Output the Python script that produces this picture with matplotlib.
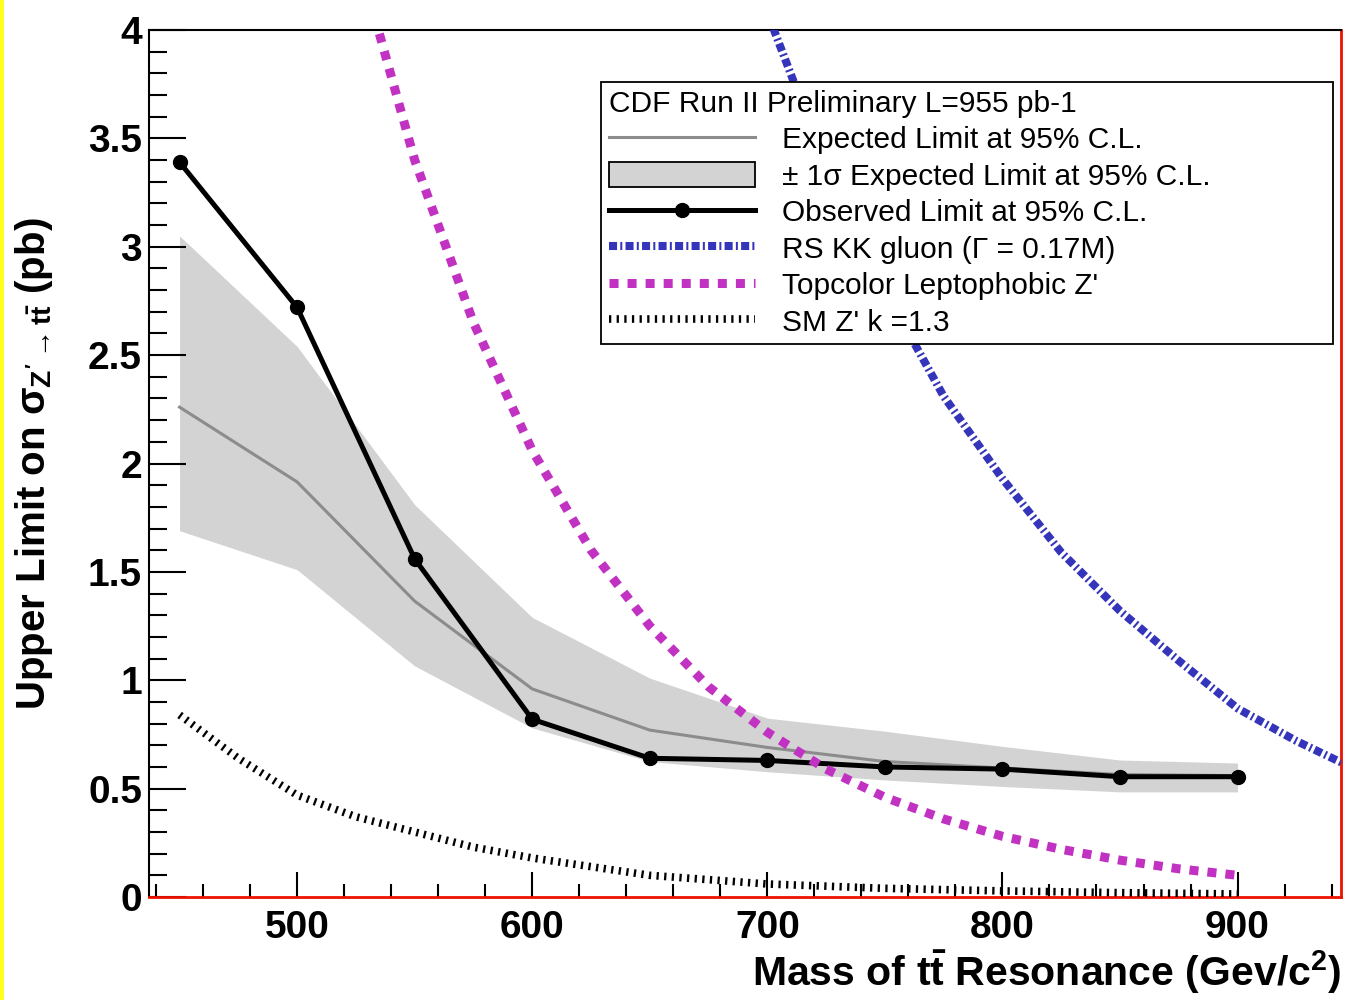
import matplotlib
matplotlib.use("Agg")
import matplotlib.pyplot as plt
from matplotlib.ticker import MultipleLocator, FormatStrFormatter
from matplotlib.patches import Rectangle
from matplotlib.lines import Line2D

# limits vs. mass, 50 GeV points
mass = [450, 500, 550, 600, 650, 700, 750, 800, 850, 900]
observed = [3.39, 2.72, 1.56, 0.82, 0.64, 0.63, 0.60, 0.59, 0.555, 0.555]
expected = [2.26, 1.915, 1.365, 0.96, 0.77, 0.69, 0.625, 0.595, 0.565, 0.56]
band_hi = [3.05, 2.54, 1.81, 1.29, 1.01, 0.825, 0.765, 0.695, 0.632, 0.618]
band_lo = [1.69, 1.51, 1.066, 0.78, 0.625, 0.578, 0.54, 0.51, 0.485, 0.485]

# model cross sections
rs_mass = [700, 725, 750, 775, 800, 825, 850, 875, 900, 925, 950]
rs_xsec = [4.08, 3.37, 2.80, 2.31, 1.93, 1.59, 1.32, 1.09, 0.87, 0.72, 0.59]

topc_mass = [525, 550, 575, 600, 625, 650, 675, 700, 725, 750, 775, 800, 825, 850, 875, 900]
topc_xsec = [4.37, 3.40, 2.65, 2.06, 1.60, 1.25, 0.97, 0.76, 0.59, 0.46, 0.36, 0.28, 0.22, 0.17, 0.13, 0.10]

sm_mass = [450, 475, 500, 525, 550, 575, 600, 650, 700, 750, 800, 850, 900]
sm_xsec = [0.84, 0.64, 0.47, 0.37, 0.30, 0.23, 0.18, 0.10, 0.06, 0.04, 0.028, 0.02, 0.014]

labels = ["Expected Limit at 95% C.L.",
          "\u00b1 1\u03c3 Expected Limit at 95% C.L.",
          "Observed Limit at 95% C.L.",
          "RS KK gluon (\u0393 = 0.17M)",
          "Topcolor Leptophobic Z'",
          "SM Z' k =1.3"]

plt.rcParams['font.family'] = ['Liberation Sans', 'DejaVu Sans']
plt.rcParams['mathtext.fontset'] = 'custom'
plt.rcParams['mathtext.rm'] = 'Liberation Sans:bold'
plt.rcParams['mathtext.it'] = 'Liberation Sans:bold'
plt.rcParams['mathtext.bf'] = 'Liberation Sans:bold'

gray = '#8c8c8c'
band_col = '#d3d3d3'
blue = '#3535bb'
magenta = '#c232c2'

fig = plt.figure(figsize=(13.55, 10), dpi=100)
ax = fig.add_axes([149/1355, 103/1000, 1192/1355, 867/1000])

ax.fill_between(mass, band_lo, band_hi, color=band_col, lw=0, zorder=1)
ax.plot(mass, expected, color=gray, lw=2.2, zorder=2)
sm_line, = ax.plot(sm_mass, sm_xsec, color='black', lw=5.5, zorder=3,
                   dashes=(0.3, 0.7), solid_capstyle='butt', dash_capstyle='butt')
obs_line, = ax.plot(mass, observed, color='black', lw=3.6, marker='o', ms=10, zorder=4)
topc_line, = ax.plot(topc_mass, topc_xsec, color=magenta, lw=6.5, zorder=5,
                     dashes=(1, 1), dash_capstyle='butt')
rs_line, = ax.plot(rs_mass, rs_xsec, color=blue, lw=5.8, zorder=5,
                   dashes=(1, 0.4, 0.25, 0.4), dash_capstyle='butt')

ax.set_xlim(437, 944)
ax.set_ylim(0, 4)

ax.xaxis.set_major_locator(MultipleLocator(100))
ax.xaxis.set_minor_locator(MultipleLocator(20))
ax.yaxis.set_major_locator(MultipleLocator(0.5))
ax.yaxis.set_minor_locator(MultipleLocator(0.1))
ax.yaxis.set_major_formatter(FormatStrFormatter('%g'))

ax.tick_params(axis='both', which='both', direction='in', top=False, right=False,
               labelsize=28, width=1.5, colors='black')
ax.tick_params(axis='x', which='major', length=18, pad=9)
ax.tick_params(axis='x', which='minor', length=9.5)
ax.tick_params(axis='y', which='major', length=26.5, pad=5)
ax.tick_params(axis='y', which='minor', length=13)
for lab in ax.get_xticklabels() + ax.get_yticklabels():
    lab.set_fontweight('bold')

for side in ['left', 'top']:
    ax.spines[side].set_linewidth(1.5)
for side in ['right', 'bottom']:
    ax.spines[side].set_color('#ee1100')
    ax.spines[side].set_linewidth(2)

ax.set_xlabel(r"Mass of $t\bar{t}$ Resonance (Gev/c$^{2}$)", fontsize=29.5,
              fontweight='bold', loc='right', labelpad=2)
ax.set_ylabel(r"Upper Limit on $\sigma_{Z'\rightarrow t\bar{t}}$ (pb)", fontsize=29,
              fontweight='bold', labelpad=24)

handles = [Line2D([], [], color=gray, lw=2.2),
           Rectangle((0, 0), 1, 1, facecolor=band_col, edgecolor='black', lw=1.3),
           obs_line, rs_line, topc_line, sm_line]
leg = ax.legend(handles, labels, title="CDF Run II Preliminary L=955 pb-1",
                loc='upper left', bbox_to_anchor=(0.379, 0.940, 0.614, 0), mode='expand',
                borderaxespad=0, fontsize=21.5, title_fontsize=21.5, handlelength=4.9,
                handleheight=0.9, handletextpad=0.9, labelspacing=0.26, borderpad=0.26,
                numpoints=1, fancybox=False, edgecolor='black', framealpha=1,
                alignment='left')
leg.get_frame().set_linewidth(1.3)
leg.set_zorder(10)

fig.patches.append(Rectangle((0, 0), 4/1355, 1, transform=fig.transFigure,
                             facecolor='#ffff22', edgecolor='none'))

fig.savefig('out.png', dpi=100)
